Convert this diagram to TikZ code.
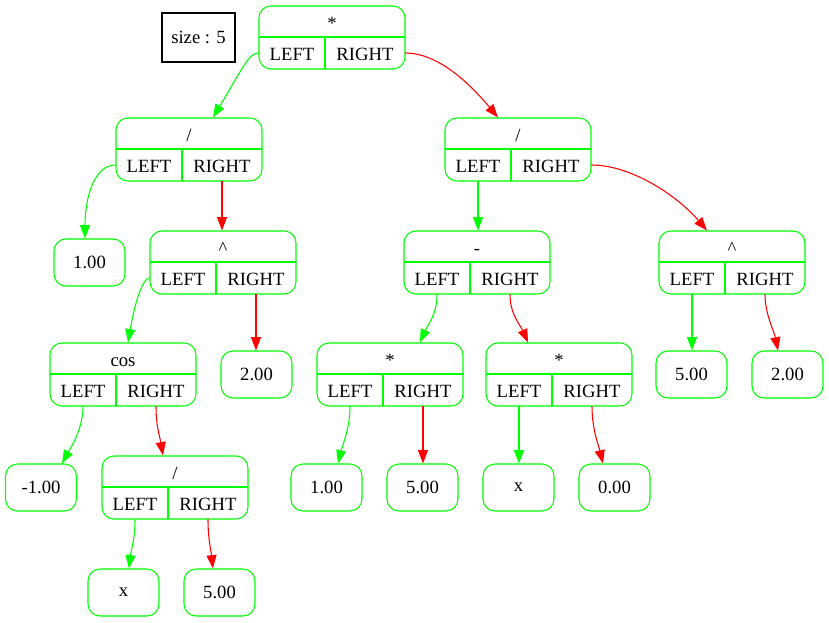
\documentclass[tikz,border=0pt]{standalone}
\usepackage{fontspec}
\setmainfont{Liberation Serif}
\usetikzlibrary{arrows.meta,calc}
\definecolor{gv}{RGB}{0,255,0}
\definecolor{rd}{RGB}{255,0,0}
\tikzset{
  recbox/.style={draw=gv, line width=0.8pt, rounded corners=9pt, minimum width=109.5pt, minimum height=47.25pt, inner sep=0pt},
  leaf/.style={draw=gv, line width=0.8pt, rounded corners=9pt, minimum width=53.25pt, minimum height=35.25pt, inner sep=0pt, font=\fontsize{14}{17}\selectfont},
  sepline/.style={draw=gv, line width=0.8pt},
  cellbox/.style={minimum height=24pt, inner sep=0pt},
  lbl/.style={anchor=base, inner sep=0pt, font=\fontsize{14}{17}\selectfont},
  ge/.style={draw=gv, line width=0.8pt, -{Triangle[length=10pt,width=7.5pt]}},
  re/.style={draw=rd, line width=0.8pt, -{Triangle[length=10pt,width=7.5pt]}},
}
\newcommand\recnode[4]{%
  \node[recbox] (#1) at (#2+73,#3+31.5) {};
  \draw[sepline] (#2,#3+31) -- (#2+146,#3+31);
  \draw[sepline] (#2+66,#3+31) -- (#2+66,#3+63);
  \node[cellbox, minimum width=49.5pt] (#1L) at (#2+33,#3+47) {};
  \node[cellbox, minimum width=60pt] (#1R) at (#2+106,#3+47) {};
  \node[lbl] (#1H) at (#2+73,#3+23.5) {#4};
  \node[lbl] (#1Lt) at (#2+33,#3+55) {LEFT};
  \node[lbl] (#1Rt) at (#2+106,#3+55) {RIGHT};
}
\begin{document}
\begin{tikzpicture}[x=0.75pt,y=-0.75pt]
\useasboundingbox (0,0) rectangle (829,623);
\node[draw=black, line width=0.8pt, minimum width=54.75pt, minimum height=36.75pt, inner sep=0pt, font=\fontsize{14}{17}\selectfont] (size) at (198.5,37.5) {size : 5};
% records
\recnode{root}{259}{6}{*}
\recnode{dl}{116}{118}{/}
\recnode{dr}{445}{118}{/}
\recnode{pl}{150}{231}{\textasciicircum}
\recnode{mn}{404}{231}{-}
\recnode{pr}{659}{231}{\textasciicircum}
\recnode{cs}{50}{343}{cos}
\recnode{ml}{317}{343}{*}
\recnode{mr}{486}{343}{*}
\recnode{db}{102}{456}{/}
% leaves
\node[leaf] (one1) at (89.5,262.5) {1.00};
\node[leaf] (two1) at (256.5,374.5) {2.00};
\node[leaf] (five1) at (691.5,374.5) {5.00};
\node[leaf] (two2) at (787.5,374.5) {2.00};
\node[leaf] (m1) at (41,487.5) {-1.00};
\node[leaf] (one2) at (326.5,487.5) {1.00};
\node[leaf] (five2) at (422.5,487.5) {5.00};
\node[leaf] (x1) at (518.5,487.5) {x};
\node[leaf] (zero) at (614.5,487.5) {0.00};
\node[leaf] (x2) at (123.5,592.5) {x};
\node[leaf] (five3) at (219.5,592.5) {5.00};
% edges
\draw[ge] (rootL.west) .. controls +(-10,0) and +(30,-50) .. ($(dl.north)+(24,0)$);
\draw[re] (rootR.east) .. controls +(35,0) and +(-25,-30) .. ($(dr.north)+(-20,0)$);
\draw[ge] (dlL.west) .. controls +(-22,0) and +(0,-40) .. ($(one1.north)+(-4.5,0)$);
\draw[re] (dlR.south) -- (dlR.south |- pl.north);
\draw[ge] (drL.south) -- (drL.south |- mn.north);
\draw[re] (drR.east) .. controls +(40,0) and +(-30,-35) .. ($(pr.north)+(-25,0)$);
\draw[ge] (plL.west) .. controls +(-8,0) and +(6,-35) .. ($(cs.north)+(5,0)$);
\draw[re] (plR.south) -- (plR.south |- two1.north);
\draw[ge] (mnL.south) .. controls +(0,20) and +(8,-18) .. ($(ml.north)+(30,0)$);
\draw[re] (mnR.south) .. controls +(0,20) and +(-8,-18) .. ($(mr.north)+(-31,0)$);
\draw[ge] (prL.south) -- (prL.south |- five1.north);
\draw[re] (prR.south) .. controls +(0,20) and +(-4,-20) .. ($(two2.north)+(-9.5,0)$);
\draw[ge] (csL.south) .. controls +(0,22) and +(10,-18) .. ($(m1.north)+(21,0)$);
\draw[re] (csR.south) .. controls +(0,20) and +(-3,-18) .. ($(db.north)+(-12,0)$);
\draw[ge] (dbL.south) .. controls +(0,20) and +(2,-18) .. ($(x2.north)+(5.5,0)$);
\draw[re] (dbR.south) .. controls +(0,20) and +(-2,-18) .. ($(five3.north)+(-6.5,0)$);
\draw[ge] (mlL.south) .. controls +(0,22) and +(5,-20) .. ($(one2.north)+(11.5,0)$);
\draw[re] (mlR.south) -- (mlR.south |- five2.north);
\draw[ge] (mrL.south) -- (mrL.south |- x1.north);
\draw[re] (mrR.south) .. controls +(0,22) and +(-5,-20) .. ($(zero.north)+(-11.5,0)$);
\end{tikzpicture}
\end{document}
